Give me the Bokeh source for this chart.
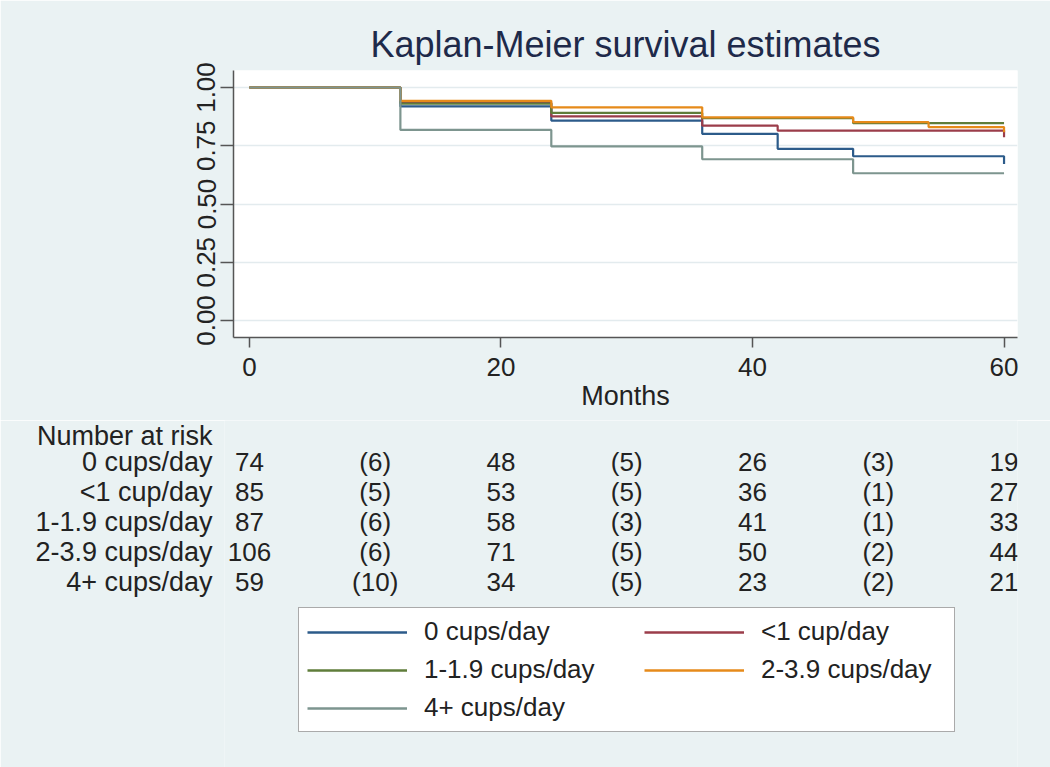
from bokeh.plotting import figure
from bokeh.layouts import column, row
from bokeh.models import (Range1d, FixedTicker, NumeralTickFormatter, Legend, LegendItem,
                          LabelSet, ColumnDataSource)
from bokeh.core.properties import value
from bokeh.embed import file_html
from bokeh.resources import INLINE

# ---------------- data ----------------
groups = ["0 cups/day", "<1 cup/day", "1-1.9 cups/day", "2-3.9 cups/day", "4+ cups/day"]
colors = ["#2c5b8a", "#9b3d4a", "#5f7d3a", "#e68a1a", "#7d958f"]

t_0cups = [0, 12, 24, 36, 42, 48, 60]
s_0cups = [1.0, 0.919, 0.858, 0.801, 0.737, 0.705, 0.672]
t_lt1 = [0, 12, 24, 36, 42, 60]
s_lt1 = [1.0, 0.935, 0.876, 0.836, 0.815, 0.787]
t_1to19 = [0, 12, 24, 36, 48, 60]
s_1to19 = [1.0, 0.931, 0.891, 0.868, 0.847, 0.847]
t_2to39 = [0, 12, 24, 36, 48, 54, 60]
s_2to39 = [1.0, 0.943, 0.915, 0.872, 0.851, 0.830, 0.808]
t_4plus = [0, 12, 24, 36, 48, 60]
s_4plus = [1.0, 0.818, 0.747, 0.692, 0.632, 0.632]

risk_times = [0, 20, 40, 60]
event_times = [10, 30, 50]
risk_0cups = [74, 48, 26, 19]
events_0cups = [6, 5, 3]
risk_lt1 = [85, 53, 36, 27]
events_lt1 = [5, 5, 1]
risk_1to19 = [87, 58, 41, 33]
events_1to19 = [6, 3, 1]
risk_2to39 = [106, 71, 50, 44]
events_2to39 = [6, 5, 2]
risk_4plus = [59, 34, 23, 21]
events_4plus = [10, 5, 2]

x_ticks = [0, 20, 40, 60]
y_ticks = [0.0, 0.25, 0.5, 0.75, 1.0]
table_header = "Number at risk"

times = [t_0cups, t_lt1, t_1to19, t_2to39, t_4plus]
survs = [s_0cups, s_lt1, s_1to19, s_2to39, s_4plus]
risks = [risk_0cups, risk_lt1, risk_1to19, risk_2to39, risk_4plus]
events = [events_0cups, events_lt1, events_1to19, events_2to39, events_4plus]

# ---------------- style ----------------
FONT = "Liberation Sans"
BG = "#eaf2f3"
TXT = "#222222"
AX = "#555555"
W = 1050
H1 = 420
H2 = 767 - H1
LEFT, TOP = 233, 70
FRAME_W, FRAME_H = 784, 267
RIGHT = W - LEFT - FRAME_W
BOTTOM = H1 - TOP - FRAME_H
X0, X1 = -1.27, 61.07
PPM = FRAME_W / (X1 - X0)

# ---------------- KM plot ----------------
p1 = figure(width=W, height=H1, output_backend="svg", toolbar_location=None,
            x_range=Range1d(X0, X1), y_range=Range1d(-0.073, 1.073),
            min_border_left=LEFT, min_border_right=RIGHT,
            min_border_top=TOP, min_border_bottom=BOTTOM,
            background_fill_color="white", border_fill_color=BG,
            outline_line_color=None, title="Kaplan-Meier survival estimates")
p1.title.align = "center"
p1.title.text_font = FONT
p1.title.text_font_size = "36px"
p1.title.text_font_style = "normal"
p1.title.text_color = "#1e2a4a"
p1.title.standoff = 12

for ax in (p1.xaxis[0], p1.yaxis[0]):
    ax.axis_line_color = AX
    ax.axis_line_width = 1.5
    ax.major_tick_line_color = AX
    ax.major_tick_line_width = 1.5
    ax.major_tick_in = 0
    ax.minor_tick_line_color = None
    ax.major_label_text_font = FONT
    ax.major_label_text_font_size = "26px"
    ax.major_label_text_color = TXT

p1.xaxis.ticker = FixedTicker(ticks=x_ticks)
p1.xaxis.major_tick_out = 10
p1.xaxis.major_label_standoff = 10
p1.xaxis.axis_label = "Months"
p1.xaxis.axis_label_text_font = FONT
p1.xaxis.axis_label_text_font_size = "27px"
p1.xaxis.axis_label_text_font_style = "normal"
p1.xaxis.axis_label_text_color = TXT
p1.xaxis.axis_label_standoff = 2

p1.yaxis.ticker = FixedTicker(ticks=y_ticks)
p1.yaxis.formatter = NumeralTickFormatter(format="0.00")
p1.yaxis.major_label_orientation = "vertical"
p1.yaxis.major_tick_out = 13

p1.xgrid.visible = False
p1.ygrid.ticker = FixedTicker(ticks=y_ticks)
p1.ygrid.grid_line_color = "#e3ebee"
p1.ygrid.grid_line_width = 1.5

for t, s, c in zip(times, survs, colors):
    p1.step(t, s, mode="after", line_color=c, line_width=2.2)

# ---------------- number at risk + legend ----------------
ROW = 29.8
HEAD_TOP = 12
LEFT2 = 224                      # a little wider frame so wide numbers at t=0 are not cut
p2 = figure(width=W, height=H2, output_backend="svg", toolbar_location=None,
            x_range=Range1d(X0 - (LEFT - LEFT2) / PPM, X1),
            y_range=Range1d(-(H2 - HEAD_TOP) / ROW, HEAD_TOP / ROW),
            x_axis_type=None,
            min_border_left=LEFT2, min_border_right=RIGHT,
            min_border_top=0, min_border_bottom=0,
            background_fill_color=BG, border_fill_color=BG,
            outline_line_color=None)
p2.grid.visible = False

row_y = [-(i + 1) for i in range(len(groups))]
ya = p2.yaxis[0]
ya.ticker = FixedTicker(ticks=[0] + row_y)
ya.major_label_overrides = dict([(0, table_header)] + list(zip(row_y, groups)))
ya.axis_line_color = None
ya.major_tick_line_color = None
ya.minor_tick_line_color = None
ya.major_tick_out = 0
ya.major_tick_in = 0
ya.major_label_standoff = 21 - (LEFT - LEFT2)
ya.major_label_text_font = FONT
ya.major_label_text_font_size = "27px"
ya.major_label_text_color = TXT

tx, ty, tt = [], [], []
for i in range(len(groups)):
    for x, v in zip(risk_times, risks[i]):
        tx.append(x); ty.append(row_y[i]); tt.append(str(v))
    for x, v in zip(event_times, events[i]):
        tx.append(x); ty.append(row_y[i]); tt.append("(%d)" % v)
table_src = ColumnDataSource(data=dict(x=tx, y=ty, text=tt))
p2.add_layout(LabelSet(x="x", y="y", text="text", source=table_src,
                       text_font=value(FONT), text_font_size=value("26px"),
                       text_color=TXT, text_align="center", text_baseline="middle"))

nan = float("nan")
keys = [p2.line(x=[nan], y=[nan], line_color=c, line_width=2.5) for c in colors]

dx = LEFT - LEFT2
leg_kw = dict(orientation="vertical", glyph_width=100, glyph_height=30,
              label_height=30, label_standoff=17, spacing=7, padding=8,
              margin=0, label_text_font=FONT, label_text_font_size="26px",
              label_text_color=TXT)
legA = Legend(items=[LegendItem(label=groups[i], renderers=[keys[i]]) for i in (0, 2, 4)],
              location=(65 + dx, 35), label_width=522,
              border_line_color=AX, border_line_width=1.5,
              background_fill_color="white", background_fill_alpha=1.0, **leg_kw)
legB = Legend(items=[LegendItem(label=groups[i], renderers=[keys[i]]) for i in (1, 3)],
              location=(411 + dx, 82), label_width=20,
              border_line_color=None, background_fill_alpha=0.0, **leg_kw)
p2.add_layout(legA)
p2.add_layout(legB)

# nest each plot in its own box so that their frames are not forced to line up
layout = column(row(p1, spacing=0), row(p2, spacing=0), spacing=0)
open("out.html", "w").write(file_html(layout, INLINE))
